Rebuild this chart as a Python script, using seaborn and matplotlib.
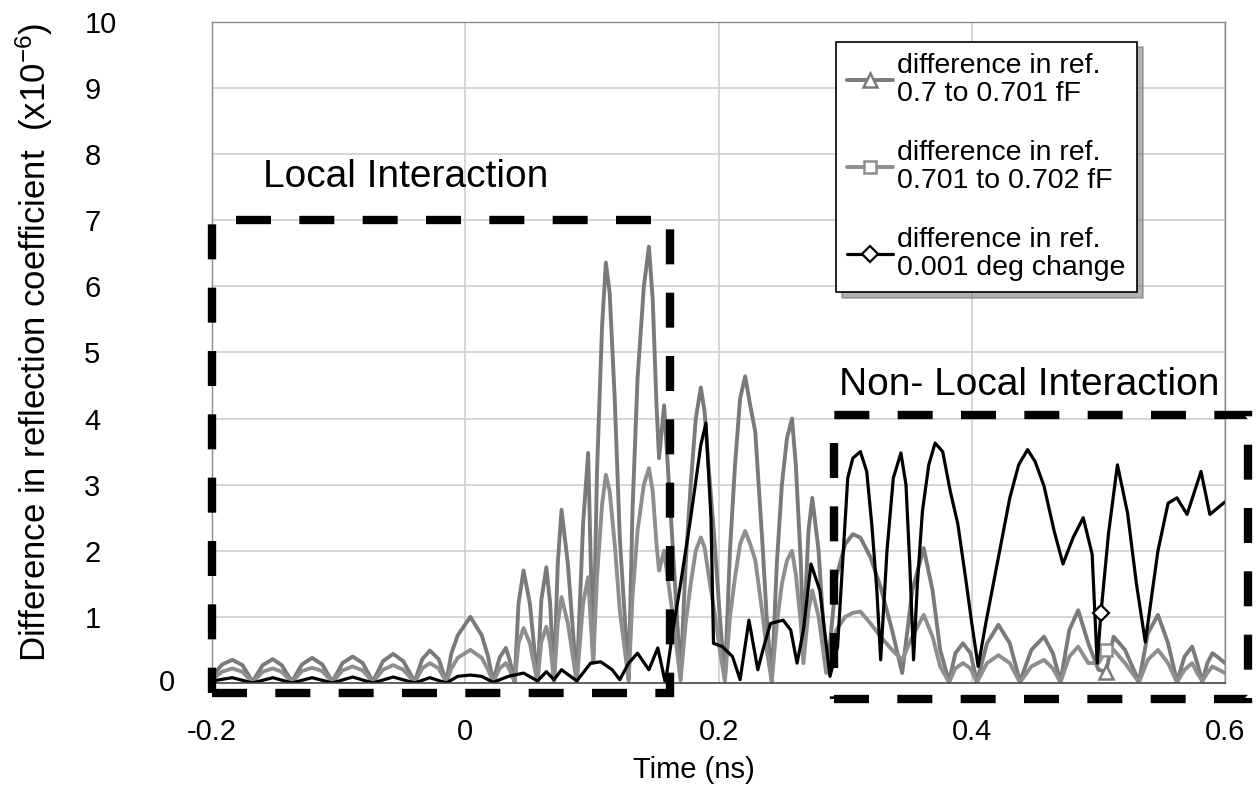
import numpy as np
import matplotlib
matplotlib.use("Agg")
import matplotlib.pyplot as plt
from matplotlib.patches import Rectangle
import seaborn as sns

# time axis (ns) shared by the two capacitance-difference curves
t_ab = [
    -0.200, -0.192, -0.184, -0.176, -0.168, -0.160, -0.152, -0.145, -0.137, -0.129,
    -0.121, -0.113, -0.105, -0.097, -0.089, -0.081, -0.073, -0.065, -0.057, -0.049,
    -0.040, -0.034, -0.028, -0.021, -0.015, -0.011, -0.006, 0.004, 0.013, 0.018,
    0.022, 0.027, 0.032, 0.035, 0.039, 0.042, 0.046, 0.051, 0.057, 0.060,
    0.064, 0.067, 0.070, 0.073, 0.076, 0.081, 0.088, 0.093, 0.097, 0.101,
    0.104, 0.108, 0.111, 0.114, 0.118, 0.122, 0.129, 0.132, 0.136, 0.141,
    0.145, 0.148, 0.151, 0.153, 0.157, 0.164, 0.170, 0.174, 0.178, 0.182,
    0.186, 0.189, 0.192, 0.197, 0.201, 0.205, 0.209, 0.213, 0.217, 0.221,
    0.225, 0.229, 0.235, 0.238, 0.242, 0.246, 0.250, 0.254, 0.258, 0.261,
    0.265, 0.267, 0.271, 0.274, 0.279, 0.285, 0.288, 0.293, 0.300, 0.306,
    0.312, 0.320, 0.328, 0.337, 0.345, 0.353, 0.362, 0.369, 0.375, 0.382,
    0.387, 0.393, 0.399, 0.404, 0.412, 0.421, 0.430, 0.438, 0.447, 0.457,
    0.464, 0.470, 0.477, 0.484, 0.492, 0.500, 0.506, 0.512, 0.521, 0.532,
    0.539, 0.547, 0.555, 0.562, 0.568, 0.574, 0.578, 0.582, 0.586, 0.590,
    0.595, 0.600,
]

# difference in ref. 0.7 to 0.701 fF  (x1e-6)
diff_07_0701 = [
    0.10, 0.28, 0.35, 0.27, 0.02, 0.27, 0.36, 0.27, 0.02, 0.28,
    0.38, 0.28, 0.02, 0.30, 0.40, 0.30, 0.02, 0.33, 0.44, 0.33,
    0.02, 0.36, 0.49, 0.36, 0.02, 0.45, 0.72, 1.00, 0.72, 0.40,
    0.02, 0.38, 0.53, 0.35, 0.02, 1.20, 1.70, 1.20, 0.02, 1.25,
    1.75, 1.20, 0.02, 1.80, 2.62, 1.80, 0.02, 2.40, 3.48, 0.30,
    3.20, 5.40, 6.36, 5.90, 4.30, 2.20, 0.05, 2.60, 4.60, 6.00,
    6.60, 5.80, 4.20, 3.40, 4.20, 2.00, 0.08, 1.80, 3.00, 4.00,
    4.47, 4.10, 3.30, 2.10, 1.00, 0.05, 2.00, 3.30, 4.30, 4.64,
    4.20, 3.80, 2.00, 1.00, 0.02, 1.80, 3.00, 3.70, 4.00, 3.30,
    1.80, 0.60, 2.30, 2.80, 2.00, 0.20, 0.60, 1.60, 2.10, 2.25,
    2.20, 1.90, 1.45, 0.80, 0.15, 1.40, 2.04, 1.40, 0.50, 0.02,
    0.45, 0.60, 0.45, 0.02, 0.60, 0.88, 0.60, 0.02, 0.50, 0.70,
    0.45, 0.02, 0.80, 1.10, 0.60, 0.20, 0.17, 0.70, 0.50, 0.02,
    0.75, 1.03, 0.60, 0.02, 0.40, 0.55, 0.30, 0.02, 0.30, 0.45,
    0.38, 0.30,
]

# difference in ref. 0.701 to 0.702 fF  (x1e-6)
diff_0701_0702 = [
    0.06, 0.17, 0.22, 0.17, 0.01, 0.17, 0.22, 0.17, 0.01, 0.18,
    0.23, 0.18, 0.01, 0.19, 0.25, 0.19, 0.01, 0.20, 0.27, 0.20,
    0.01, 0.22, 0.30, 0.22, 0.01, 0.22, 0.38, 0.50, 0.38, 0.20,
    0.01, 0.22, 0.30, 0.20, 0.01, 0.60, 0.83, 0.60, 0.01, 0.62,
    0.85, 0.60, 0.01, 0.90, 1.30, 0.90, 0.01, 1.20, 1.60, 0.30,
    1.60, 2.70, 3.15, 2.90, 2.10, 1.10, 0.03, 1.30, 2.30, 3.00,
    3.25, 2.90, 2.10, 1.70, 2.00, 1.00, 0.04, 0.90, 1.50, 2.00,
    2.20, 2.05, 1.65, 1.05, 0.50, 0.03, 1.00, 1.60, 2.10, 2.30,
    2.10, 1.86, 1.00, 0.50, 0.02, 0.90, 1.50, 1.85, 2.00, 1.65,
    0.90, 0.30, 1.10, 1.40, 1.00, 0.15, 0.40, 0.80, 1.00, 1.06,
    1.08, 0.90, 0.70, 0.50, 0.35, 0.70, 1.03, 0.70, 0.25, 0.01,
    0.22, 0.30, 0.22, 0.01, 0.30, 0.42, 0.30, 0.01, 0.25, 0.35,
    0.22, 0.01, 0.40, 0.55, 0.30, 0.30, 0.50, 0.50, 0.30, 0.01,
    0.35, 0.50, 0.30, 0.01, 0.20, 0.30, 0.15, 0.03, 0.15, 0.25,
    0.20, 0.15,
]

# difference in ref. 0.001 deg change
t_deg = [
    -0.200, -0.184, -0.168, -0.152, -0.137, -0.121, -0.105, -0.089, -0.073, -0.057,
    -0.040, -0.028, -0.015, -0.006, 0.004, 0.013, 0.022, 0.034, 0.046, 0.057,
    0.064, 0.070, 0.076, 0.088, 0.099, 0.107, 0.116, 0.122, 0.129, 0.136,
    0.145, 0.152, 0.158, 0.164, 0.170, 0.178, 0.186, 0.190, 0.194, 0.196,
    0.203, 0.211, 0.217, 0.224, 0.231, 0.235, 0.241, 0.251, 0.257, 0.262,
    0.267, 0.273, 0.280, 0.288, 0.294, 0.302, 0.306, 0.312, 0.317, 0.321,
    0.325, 0.328, 0.333, 0.338, 0.344, 0.348, 0.351, 0.354, 0.357, 0.361,
    0.366, 0.371, 0.377, 0.383, 0.389, 0.395, 0.400, 0.405, 0.411, 0.417,
    0.423, 0.430, 0.437, 0.444, 0.450, 0.457, 0.465, 0.472, 0.480, 0.488,
    0.495, 0.499, 0.502, 0.508, 0.515, 0.523, 0.530, 0.537, 0.547, 0.555,
    0.562, 0.570, 0.581, 0.588, 0.600,
]
diff_deg = [
    0.03, 0.08, 0.00, 0.08, 0.00, 0.08, 0.00, 0.09, 0.00, 0.09,
    0.00, 0.08, 0.00, 0.10, 0.12, 0.10, 0.01, 0.10, 0.15, 0.03,
    0.17, 0.05, 0.20, 0.03, 0.30, 0.32, 0.20, 0.05, 0.30, 0.45,
    0.20, 0.53, 0.00, 0.80, 1.50, 2.50, 3.60, 3.93, 2.50, 0.60,
    0.55, 0.40, 0.05, 0.95, 0.20, 0.50, 0.90, 0.95, 0.80, 0.30,
    0.80, 1.80, 1.40, 0.10, 0.55, 3.10, 3.40, 3.50, 3.20, 2.40,
    1.40, 0.35, 2.00, 3.10, 3.48, 3.00, 1.80, 0.35, 1.50, 2.60,
    3.30, 3.63, 3.50, 2.90, 2.40, 1.60, 0.90, 0.25, 0.90, 1.50,
    2.10, 2.80, 3.30, 3.53, 3.35, 2.98, 2.30, 1.80, 2.20, 2.50,
    1.95, 0.30, 1.06, 2.27, 3.30, 2.57, 1.50, 0.62, 2.00, 2.72,
    2.80, 2.55, 3.20, 2.55, 2.74,
]

labels = [
    "difference in ref.\n0.7 to 0.701 fF",
    "difference in ref.\n0.701 to 0.702 fF",
    "difference in ref.\n0.001 deg change",
]
x_ticks = [-0.2, 0, 0.2, 0.4, 0.6]
x_ticklabels = ["-0.2", "0", "0.2", "0.4", "0.6"]
y_ticks = list(range(1, 11))

# one marker per curve, like the original plot
mark_ab = t_ab.index(0.506)
mark_deg = t_deg.index(0.502)

sns.set_theme(style="whitegrid")
plt.rcParams['font.family'] = ['Liberation Sans', 'DejaVu Sans']
plt.rcParams['mathtext.default'] = 'regular'
plt.rcParams['text.color'] = 'black'
plt.rcParams['axes.labelcolor'] = 'black'

fig = plt.figure(figsize=(12.57, 7.96), dpi=100)
ax = fig.add_axes([0.1687, 0.1420, 0.8059, 0.8304])

sns.lineplot(x=t_ab, y=diff_07_0701, ax=ax, estimator=None, sort=False,
             color='#7a7a7a', linewidth=2.8, marker='^', markersize=10,
             markerfacecolor='white', markeredgecolor='#7a7a7a', markeredgewidth=1.8,
             markevery=[mark_ab], label=labels[0], legend=False)
sns.lineplot(x=t_ab, y=diff_0701_0702, ax=ax, estimator=None, sort=False,
             color='#8e8e8e', linewidth=2.8, marker='s', markersize=9,
             markerfacecolor='white', markeredgecolor='#8e8e8e', markeredgewidth=1.8,
             markevery=[mark_ab], label=labels[1], legend=False)
sns.lineplot(x=t_deg, y=diff_deg, ax=ax, estimator=None, sort=False,
             color='black', linewidth=2.3, marker='D', markersize=8,
             markerfacecolor='white', markeredgecolor='black', markeredgewidth=1.6,
             markevery=[mark_deg], label=labels[2], legend=False)
handles = ax.get_lines()[:3]

ax.set_xlim(-0.2, 0.6)
ax.set_ylim(0, 10)
ax.set_xticks(x_ticks)
ax.set_xticklabels(x_ticklabels)
ax.set_yticks(y_ticks)
ax.set_yticklabels([str(v) for v in y_ticks])
ax.grid(True, color='#cfcfcf', linewidth=1.2)
ax.tick_params(axis='both', length=0, labelsize=21, colors='black')
ax.tick_params(axis='x', pad=25)
ax.tick_params(axis='y', pad=92)
for lab in ax.get_yticklabels():
    lab.set_horizontalalignment('left')
# the zero label sits close to the axis in the original
ax.text(-0.0365, 0, '0', transform=ax.get_yaxis_transform(), ha='right',
        va='center', fontsize=21)

for side in ['top', 'right', 'left']:
    ax.spines[side].set_color('#8a8a8a')
    ax.spines[side].set_linewidth(1.0)
ax.spines['bottom'].set_color('#444444')
ax.spines['bottom'].set_linewidth(1.2)

ax.set_xlabel('Time (ns)', fontsize=21)
ax.xaxis.set_label_coords(0.476, -0.110)
ax.set_ylabel('Difference in reflection coefficient  (x10$^{-6}$)', fontsize=25)
ax.yaxis.set_label_coords(-0.155, 0.516)

# dashed regions
dash = (0, (4.2, 3.4))
ax.add_patch(Rectangle((-0.2, -0.15), 0.362, 7.15, fill=False, edgecolor='black',
                       linewidth=6, linestyle=dash, clip_on=False, zorder=5))
ax.add_patch(Rectangle((0.291, -0.24), 0.327, 4.30, fill=False, edgecolor='black',
                       linewidth=6, linestyle=dash, clip_on=False, zorder=5))
ax.text(-0.160, 7.5, 'Local Interaction', fontsize=28, va='baseline', ha='left')
ax.text(0.295, 4.36, 'Non- Local Interaction', fontsize=28, va='baseline', ha='left')

leg = ax.legend(handles=handles, labels=labels, loc='upper left',
                bbox_to_anchor=(0.616, 0.970), borderaxespad=0, fontsize=20.5,
                numpoints=1, handlelength=1.6, handletextpad=0.15, labelspacing=1.15,
                borderpad=0.4, frameon=True, fancybox=False,
                shadow={'ox': 4, 'oy': -4, 'color': '#666666'})
for txt in leg.get_texts():
    txt.set_linespacing(1.1)
leg.get_frame().set_edgecolor('black')
leg.get_frame().set_linewidth(1.2)
leg.set_zorder(10)

fig.savefig('out.png', dpi=100)
